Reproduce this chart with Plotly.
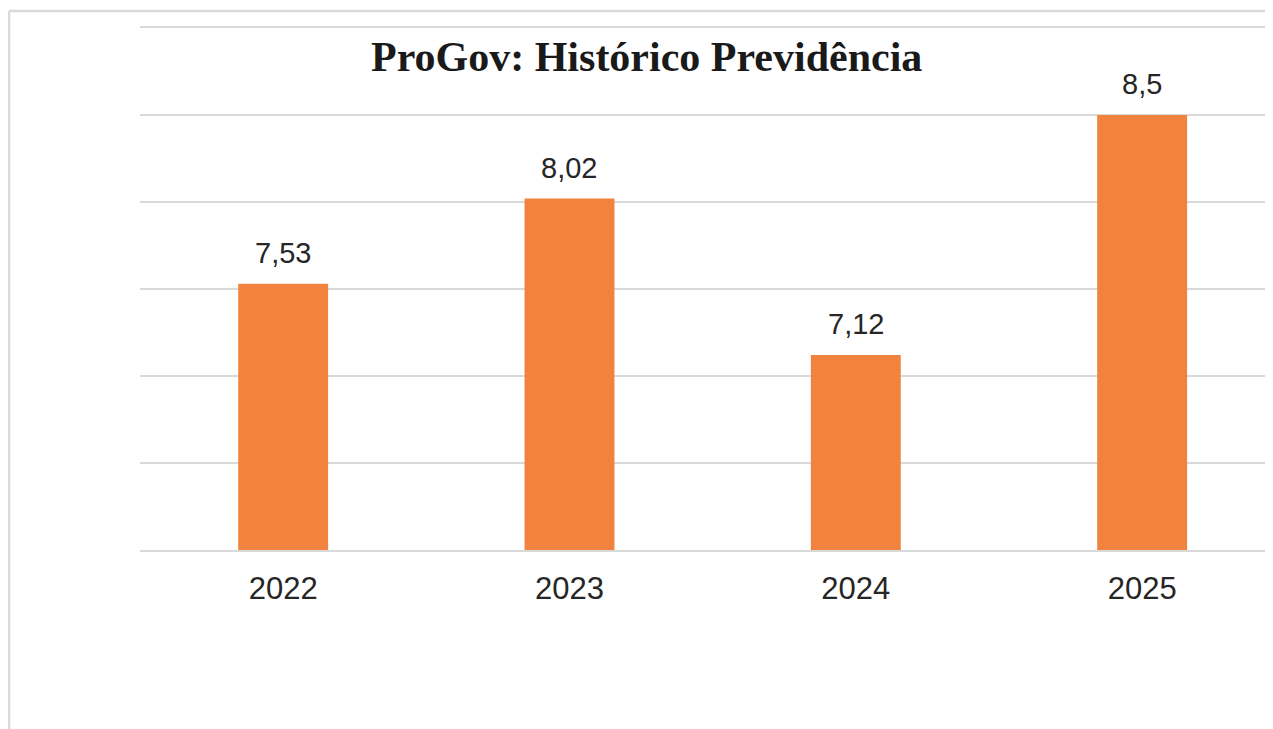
import plotly.graph_objects as go

years = ["2022", "2023", "2024", "2025"]
values = [7.53, 8.02, 7.12, 8.5]
labels = ["7,53", "8,02", "7,12", "8,5"]
title_text = "ProGov: Histórico Previdência"

BAR_COLOR = "#F1833F"
GRID = "#D9D9D9"
TXT = "#262626"

# page has an 8px body margin; work in screenshot pixels and subtract it
OFF = 8
W, H = 1273 - OFF, 729 - OFF
L = 140 - OFF
T = 28 - OFF
B = H - (550 - OFF)
pw = W - L
ph = H - T - B

def px_x(p):
    return (p - OFF - L) / pw

def px_y(p):
    return (H - B - (p - OFF)) / ph

fig = go.Figure()
fig.add_trace(go.Bar(
    x=years, y=values, marker=dict(color=BAR_COLOR, line=dict(width=0)),
    width=0.314, hoverinfo="skip",
))

annotations = []
for i, (v, lab) in enumerate(zip(values, labels)):
    annotations.append(dict(
        x=i, y=v, xref="x", yref="y", text=lab, showarrow=False,
        yanchor="bottom", yshift=13,
        font=dict(family="Liberation Sans", size=29, color=TXT),
    ))
annotations.append(dict(
    x=px_x(646), y=px_y(57), xref="paper", yref="paper", text="<b>" + title_text + "</b>",
    showarrow=False, xanchor="center", yanchor="middle",
    font=dict(family="Liberation Serif", size=42, color="#1A1A1A"),
))

shapes = [
    dict(type="line", xref="paper", yref="paper",
         x0=px_x(9), x1=px_x(1300), y0=px_y(11), y1=px_y(11),
         line=dict(color=GRID, width=2.5)),
    dict(type="line", xref="paper", yref="paper",
         x0=px_x(9), x1=px_x(9), y0=px_y(11), y1=px_y(760),
         line=dict(color=GRID, width=2.5)),
]

fig.update_layout(
    width=W, height=H,
    margin=dict(l=L, r=0, t=T, b=B, pad=0),
    paper_bgcolor="white", plot_bgcolor="white",
    showlegend=False,
    annotations=annotations,
    shapes=shapes,
    xaxis=dict(
        type="category", range=[-0.5, 3.457],
        showgrid=False, showline=True, mirror=True, linecolor=GRID, linewidth=2,
        ticks="", ticklabelstandoff=10,
        tickfont=dict(family="Liberation Sans", size=31, color=TXT),
        fixedrange=True,
    ),
    yaxis=dict(
        range=[6, 9], dtick=0.5, tick0=6, showgrid=True, gridcolor=GRID, gridwidth=2,
        showticklabels=False, zeroline=False, showline=False, fixedrange=True,
    ),
)

fig.write_html("out.html", config={"displayModeBar": False})
